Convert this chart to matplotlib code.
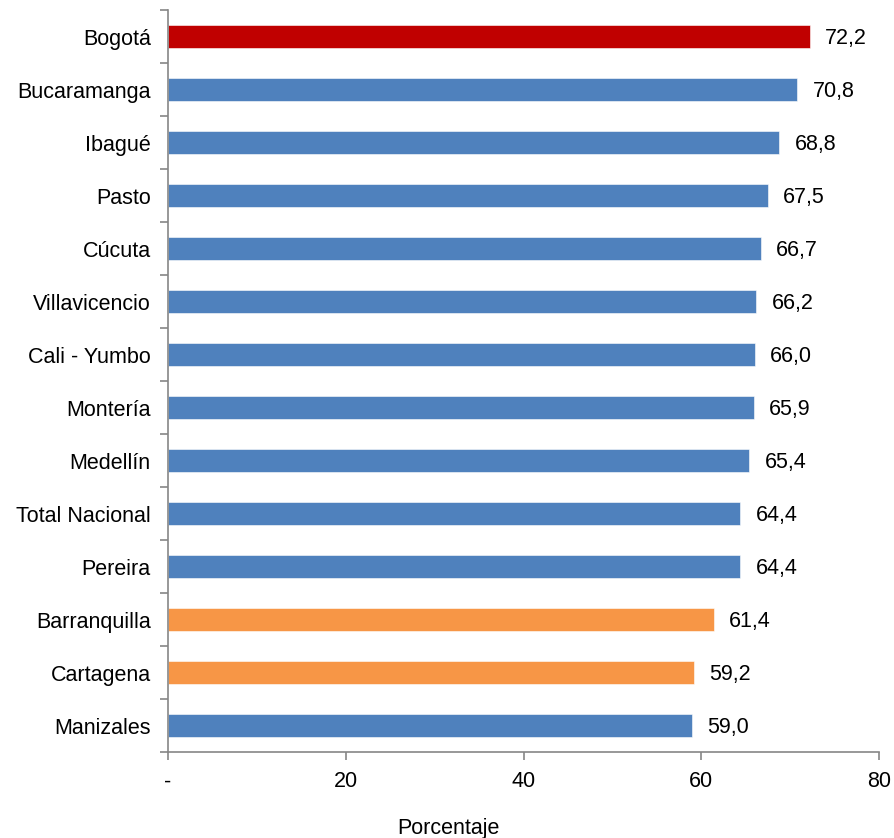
import matplotlib
matplotlib.use("Agg")
import matplotlib.pyplot as plt
from matplotlib.ticker import FixedLocator

plt.rcParams['font.family'] = ['Liberation Sans', 'DejaVu Sans']

cities = ["Bogotá", "Bucaramanga", "Ibagué", "Pasto", "Cúcuta", "Villavicencio",
          "Cali - Yumbo", "Montería", "Medellín", "Total Nacional", "Pereira",
          "Barranquilla", "Cartagena", "Manizales"]
values = [72.2, 70.8, 68.8, 67.5, 66.7, 66.2, 66.0, 65.9, 65.4, 64.4, 64.4, 61.4, 59.2, 59.0]
value_labels = ["72,2", "70,8", "68,8", "67,5", "66,7", "66,2", "66,0", "65,9", "65,4",
                "64,4", "64,4", "61,4", "59,2", "59,0"]
x_ticks = [0, 20, 40, 60, 80]
x_tick_labels = ["-", "20", "40", "60", "80"]
xlabel = "Porcentaje"

RED, BLUE, ORANGE = "#C00000", "#4F81BD", "#F79646"
colors = []
for c in cities:
    if c == "Bogotá":
        colors.append(RED)
    elif c in ("Barranquilla", "Cartagena"):
        colors.append(ORANGE)
    else:
        colors.append(BLUE)

FS = 15.5

fig = plt.figure(figsize=(8.94, 8.38), dpi=100)
ax = fig.add_axes([168/894, 1 - 752/838, (879-168)/894, (752-10)/838])

n = len(cities)
ypos = list(range(n))
ax.barh(ypos, values, height=0.42, color=colors, edgecolor="white", linewidth=0.4)
ax.set_ylim(n - 0.5, -0.5)
ax.set_xlim(0, 80)

for y, v, lab in zip(ypos, values, value_labels):
    ax.annotate(lab, (v, y), xytext=(11, -1.5), textcoords="offset points",
                va="center", ha="left", fontsize=FS, color="black")

ax.set_yticks(ypos)
ax.set_yticklabels(cities, fontsize=FS)
ax.yaxis.set_minor_locator(FixedLocator([i - 0.5 for i in range(n + 1)]))
ax.tick_params(axis="y", which="major", length=0, pad=12.5)
ax.tick_params(axis="y", which="minor", length=6, color="#868686", width=1.2)

ax.set_xticks(x_ticks)
ax.set_xticklabels(x_tick_labels, fontsize=FS)
ax.tick_params(axis="x", which="major", length=6, color="#868686", width=1.2, pad=8)

for s in ["top", "right"]:
    ax.spines[s].set_visible(False)
for s in ["left", "bottom"]:
    ax.spines[s].set_color("#868686")
    ax.spines[s].set_linewidth(1.2)

fig.text(448/894, 1 - 828/838, xlabel, ha="center", va="center", fontsize=FS)

fig.savefig("out.png", dpi=100)
